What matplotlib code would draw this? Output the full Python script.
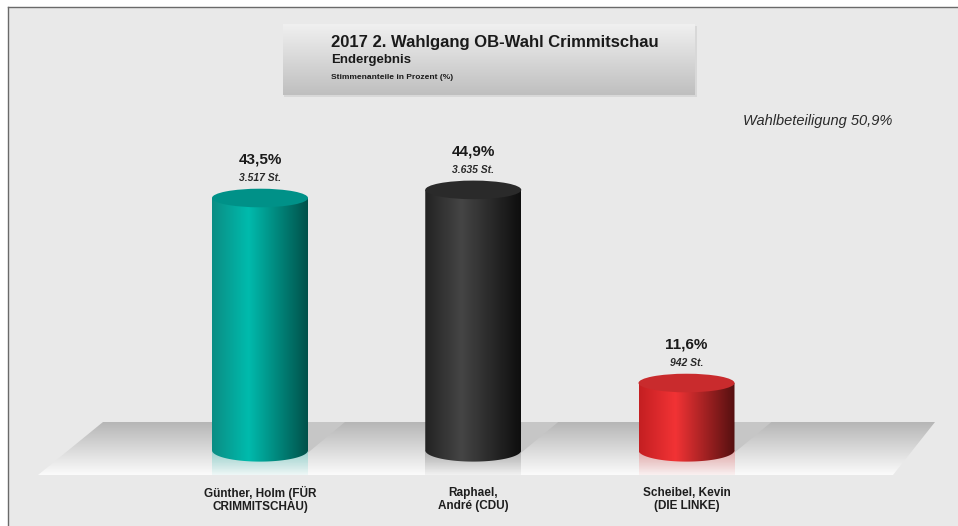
import numpy as np
import matplotlib
matplotlib.use("Agg")
import matplotlib.pyplot as plt
from matplotlib.colors import LinearSegmentedColormap, to_rgb
from matplotlib.patches import Polygon, Rectangle, Ellipse

# OB-Wahl Crimmitschau, 2. Wahlgang
candidates = ["Günther, Holm (FÜR\nCRIMMITSCHAU)", "Raphael,\nAndré (CDU)", "Scheibel, Kevin\n(DIE LINKE)"]
percent = [43.5, 44.9, 11.6]
votes = ["3.517 St.", "3.635 St.", "942 St."]
body_colors = [
    ["#0b8d84", "#00bbad", "#00514a"],
    ["#232323", "#454545", "#0e0e0e"],
    ["#c41f22", "#f23335", "#541010"],
]
top_colors = ["#009188", "#2a2a2a", "#c92b2d"]
turnout = "Wahlbeteiligung 50,9%"
title_lines = ["2017 2. Wahlgang OB-Wahl Crimmitschau", "Endergebnis", "Stimmenanteile in Prozent (%)"]

W, H = 958, 526
plt.rcParams['font.family'] = ['Liberation Sans', 'DejaVu Sans']
BG = "#e9e9e9"

fig = plt.figure(figsize=(W / 100, H / 100), dpi=100, facecolor="white")

# pixel layer for the decoration
deco = fig.add_axes([0, 0, 1, 1])
deco.set_xlim(0, W)
deco.set_ylim(H, 0)
deco.axis("off")

deco.add_patch(Rectangle((8, 7), W, H, fc=BG, ec="none"))
deco.plot([8, 8], [7, H], color="#6a6a6a", lw=1)
deco.plot([8, W], [7, 7], color="#6a6a6a", lw=1)


def vgrad(ax, extent, c1, c2, clip):
    cmap = LinearSegmentedColormap.from_list("g", [c1, c2])
    im = ax.imshow(np.linspace(0, 1, 128).reshape(-1, 1), cmap=cmap, extent=extent,
                   aspect="auto", zorder=2, interpolation="bilinear")
    im.set_clip_path(clip)
    return im


# title box
deco.add_patch(Rectangle((284, 26), 413, 71, fc="#d8d8d8", ec="none", zorder=1))
box = Rectangle((283, 24), 412, 71, transform=deco.transData, fc="none", ec="none")
deco.add_patch(box)
vgrad(deco, (283, 695, 95, 24), "#f0f0f0", "#bfbfbf", box)

deco.text(331, 43, title_lines[0], fontsize=12, fontweight="bold", color="#1a1a1a", va="center", zorder=5)
deco.text(331, 60.5, title_lines[1], fontsize=9.5, fontweight="bold", color="#1a1a1a", va="center", zorder=5)
deco.text(331, 77.5, title_lines[2], fontsize=6, fontweight="bold", color="#1a1a1a", va="center", zorder=5)
deco.text(892, 121, turnout, fontsize=10.5, style="italic", color="#2a2a2a", ha="right", va="center", zorder=5)

# floor
floor = Polygon([(103, 422), (935, 422), (893, 475), (38, 475)], fc="none", ec="none")
deco.add_patch(floor)
vgrad(deco, (38, 935, 475, 422), "#b6b6b6", "#fbfbfb", floor)
deco.set_xlim(0, W)
deco.set_ylim(H, 0)

# value layer: 0 % sits at y=450.3 px, 5.8 px per percent
PX_PER_PCT = 5.8
BASE_PX = 450.3
X0_PX = 260
STEP_PX = 213.25
ax = fig.add_axes([0, 0, 1, 1])
ax.patch.set_alpha(0)
ax.axis("off")
xlim = (-X0_PX / STEP_PX, (W - X0_PX) / STEP_PX)
ylim = ((BASE_PX - H) / PX_PER_PCT, BASE_PX / PX_PER_PCT)
BAR_W = 96 / STEP_PX
TOP_RY = 9.3 / PX_PER_PCT
BOT_RY = 11.3 / PX_PER_PCT
FLOOR_FRONT = (BASE_PX - 475) / PX_PER_PCT
FLOOR_BACK = (BASE_PX - 422) / PX_PER_PCT

for i, (val, cols) in enumerate(zip(percent, body_colors)):
    left, right = i - BAR_W / 2, i + BAR_W / 2

    # cast shadow on the floor, right of the bar
    ax.add_patch(Polygon([(right, -0.4), (right + 37 / STEP_PX, FLOOR_BACK), (right, FLOOR_BACK)],
                         fc="#c6c6c6", ec="none", zorder=1))

    # mirror image under the bar
    mirror = Rectangle((left, FLOOR_FRONT), BAR_W, -FLOOR_FRONT, fc="none", ec="none")
    ax.add_patch(mirror)
    tint = to_rgb(cols[1])
    cmap = LinearSegmentedColormap.from_list("m", [(*tint, 0.05), (*tint, 0.30)])
    im = ax.imshow(np.linspace(0, 1, 64).reshape(-1, 1), cmap=cmap, origin="lower",
                   extent=(left, right, FLOOR_FRONT, 0), aspect="auto", zorder=2)
    im.set_clip_path(mirror)

    # cylinder body
    t = np.linspace(np.pi, 2 * np.pi, 60)
    outline = [(left, val)] + [(i + BAR_W / 2 * np.cos(a), BOT_RY * np.sin(a)) for a in t] + [(right, val)]
    body = Polygon(outline, fc="none", ec="none")
    ax.add_patch(body)
    cmap = LinearSegmentedColormap.from_list("b", [(0, cols[0]), (0.38, cols[1]), (1, cols[2])])
    im = ax.imshow(np.linspace(0, 1, 256).reshape(1, -1), cmap=cmap,
                   extent=(left, right, -BOT_RY, val), aspect="auto", zorder=3)
    im.set_clip_path(body)

    # cylinder lid
    ax.add_patch(Ellipse((i, val), BAR_W, 2 * TOP_RY, fc=top_colors[i], ec="none", zorder=4))

    # labels
    ax.text(i, val + 6.6, f"{val:.1f}%".replace(".", ","), fontsize=11, fontweight="bold",
            color="#1a1a1a", ha="center", va="center", zorder=5)
    ax.text(i, val + 3.5, votes[i], fontsize=7.5, fontweight="bold", style="italic",
            color="#2a2a2a", ha="center", va="center", zorder=5)
    ax.text(i, (BASE_PX - 499.5) / PX_PER_PCT, candidates[i], fontsize=8.5, fontweight="bold",
            color="#1e1e1e", ha="center", va="center", linespacing=1.15, zorder=5)

ax.set_xlim(xlim)
ax.set_ylim(ylim)

fig.savefig("out.png", dpi=100, facecolor=fig.get_facecolor())
